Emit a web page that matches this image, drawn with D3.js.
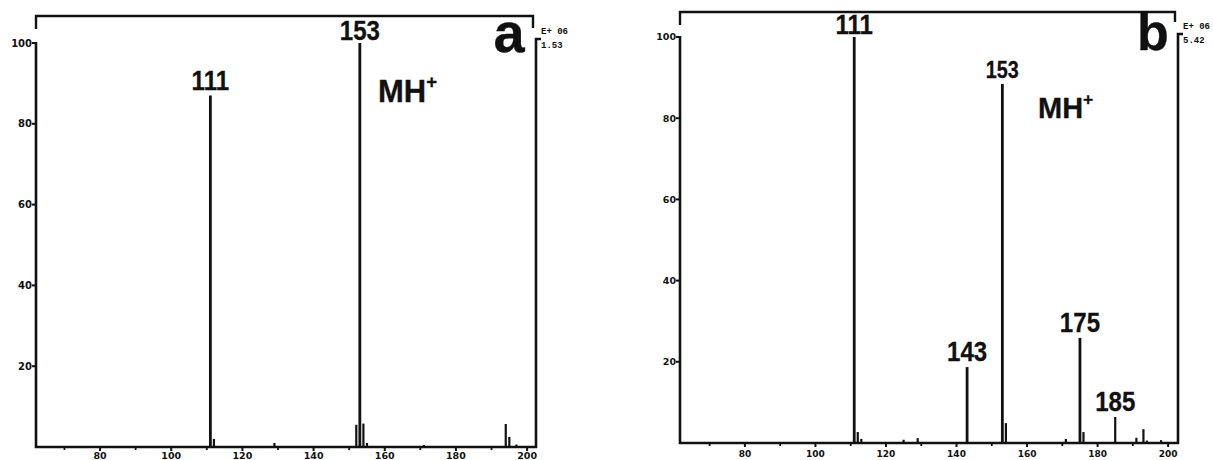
<!DOCTYPE html>
<html>
<head>
<meta charset="utf-8">
<script src="https://cdn.jsdelivr.net/npm/d3@7"></script>
<style>
  body { margin: 0; background: #fff; }
  svg { display: block; }
  .tick-label { font-family: "DejaVu Sans", sans-serif; font-weight: bold; fill: #111; }
  .peak-label { font-family: "Liberation Sans", Arial, sans-serif; font-weight: bold; fill: #111; stroke: #111; stroke-width: 0.3px; }
  .scale-label { font-family: "Liberation Mono", monospace; font-weight: bold; font-size: 9px; fill: #111; }
</style>
</head>
<body>
<div id="chartContainer"></div>
<script>
// Data (m/z, relative abundance %)
const mzA = [111, 112, 129, 152, 153, 154, 155, 171, 194, 195, 197];
const intA = [87, 2, 1, 5.5, 100, 5.8, 1, 0.5, 5.7, 2.5, 0.6];
const labelsA = [111, 153];

const mzB = [111, 112, 113, 125, 129, 143, 153, 154, 171, 175, 176, 185, 191, 193, 194, 198];
const intB = [100, 2.7, 1, 0.8, 1.2, 18.7, 88.4, 4.9, 1, 25.9, 2.7, 6.4, 1.3, 3.4, 0.6, 0.7];
const labelsB = [111, 143, 153, 175, 185];

const yTicks = [20, 40, 60, 80, 100];
const xTicks = [80, 100, 120, 140, 160, 180, 200];
const xMinor = [70, 90, 110, 130, 150, 170, 190];

const panelNames = ['a', 'b'];
const scaleExp = ['E+ 06', 'E+ 06'];
const scaleVal = ['1.53', '5.42'];

const width = 1213;
const height = 460;

const svg = d3
  .select('#chartContainer')
  .append('svg')
  .attr('width', width)
  .attr('height', height);

svg.append('rect').attr('width', width).attr('height', height).attr('fill', '#fff');

// layout of each panel (pixel boxes)
const panels = [
  {
    mz: mzA, ab: intA, labels: labelsA, name: panelNames[0], exp: scaleExp[0], val: scaleVal[0],
    xDom: [62, 202.5], xRange: [36, 536], yRange: [447, 43], top: 16, drop: 13, rDrop: 12,
    bracketY: 39, nameX: 509, nameY: 52, nameSize: 56, mhX: 378, mhY: 102, mhSize: 31,
    yFont: 10, xFont: 9.5, xLabelY: 12, small153: false
  },
  {
    mz: mzB, ab: intB, labels: labelsB, name: panelNames[1], exp: scaleExp[1], val: scaleVal[1],
    xDom: [61.6, 202.8], xRange: [680, 1178], yRange: [443, 37], top: 12, drop: 13, rDrop: 10,
    bracketY: 34, nameX: 1153, nameY: 50, nameSize: 52, mhX: 1038, mhY: 118, mhSize: 29,
    yFont: 9.5, xFont: 9, xLabelY: 14, small153: true
  }
];

panels.forEach(p => {
  const g = svg.append('g');
  const x = d3.scaleLinear().domain(p.xDom).range(p.xRange);
  const y = d3.scaleLinear().domain([0, 100]).range(p.yRange);
  const x0 = p.xRange[0];
  const x1 = p.xRange[1];
  const base = y(0);

  // top bracket
  g.append('path')
    .attr('d', `M${x0},${p.top + p.drop}V${p.top}H${x1 - 3}V${p.top + p.rDrop}`)
    .attr('fill', 'none')
    .attr('stroke', '#111')
    .attr('stroke-width', 2.4);

  // frame: left axis, baseline, right side
  g.append('path')
    .attr('d', `M${x0},${y(100) - 1}V${base}H${x1}V${p.bracketY}h5`)
    .attr('fill', 'none')
    .attr('stroke', '#111')
    .attr('stroke-width', 2.6);

  // y ticks
  yTicks.forEach(t => {
    g.append('line')
      .attr('x1', x0 - 4).attr('x2', x0)
      .attr('y1', y(t)).attr('y2', y(t))
      .attr('stroke', '#111').attr('stroke-width', 2);
    g.append('text')
      .attr('class', 'tick-label')
      .attr('x', x0 - 4)
      .attr('y', y(t) + p.yFont * 0.36)
      .attr('text-anchor', 'end')
      .style('font-size', p.yFont + 'px')
      .text(t);
  });

  // x ticks
  xTicks.forEach(t => {
    g.append('line')
      .attr('x1', x(t)).attr('x2', x(t))
      .attr('y1', base).attr('y2', base + 4)
      .attr('stroke', '#111').attr('stroke-width', 2);
    g.append('text')
      .attr('class', 'tick-label')
      .attr('x', x(t))
      .attr('y', base + p.xLabelY)
      .attr('text-anchor', 'middle')
      .style('font-size', p.xFont + 'px')
      .text(t);
  });
  xMinor.forEach(t => {
    g.append('line')
      .attr('x1', x(t)).attr('x2', x(t))
      .attr('y1', base).attr('y2', base + 3)
      .attr('stroke', '#111').attr('stroke-width', 1.8);
  });

  // peaks
  const data = p.mz.map((m, i) => ({ mz: m, ab: p.ab[i] }));
  g.selectAll('.peak')
    .data(data)
    .enter()
    .append('line')
    .attr('class', 'peak')
    .attr('x1', d => x(d.mz)).attr('x2', d => x(d.mz))
    .attr('y1', base).attr('y2', d => y(d.ab))
    .attr('stroke', '#111')
    .attr('stroke-width', d => (d.ab > 10 ? 2.8 : 2.2));

  // peak labels
  data.filter(d => p.labels.includes(d.mz)).forEach(d => {
    const small = p.small153 && d.mz === 153;
    const size = small ? 23 : 28;
    const gap = d.ab >= 99 ? 3 : 6;
    g.append('text')
      .attr('class', 'peak-label')
      .attr('transform', `translate(${x(d.mz)},${y(d.ab) - gap}) scale(0.86,1)`)
      .attr('text-anchor', 'middle')
      .style('font-size', size + 'px')
      .text(d.mz);
  });

  // MH+ label
  const mh = g.append('text')
    .attr('class', 'peak-label')
    .attr('x', p.mhX)
    .attr('y', p.mhY)
    .style('font-size', p.mhSize + 'px')
    .text('MH');
  mh.append('tspan')
    .attr('dy', -p.mhSize * 0.45)
    .style('font-size', (p.mhSize * 0.6) + 'px')
    .text('+');

  // panel letter
  g.append('text')
    .attr('class', 'peak-label')
    .attr('x', p.nameX)
    .attr('y', p.nameY)
    .attr('text-anchor', 'middle')
    .style('font-size', p.nameSize + 'px')
    .text(p.name);

  // intensity scale
  g.append('text')
    .attr('class', 'scale-label')
    .attr('x', x1 + 5)
    .attr('y', p.bracketY - 5)
    .text(p.exp);
  g.append('text')
    .attr('class', 'scale-label')
    .attr('x', x1 + 5)
    .attr('y', p.bracketY + 9)
    .text(p.val);
});
</script>
</body>
</html>
